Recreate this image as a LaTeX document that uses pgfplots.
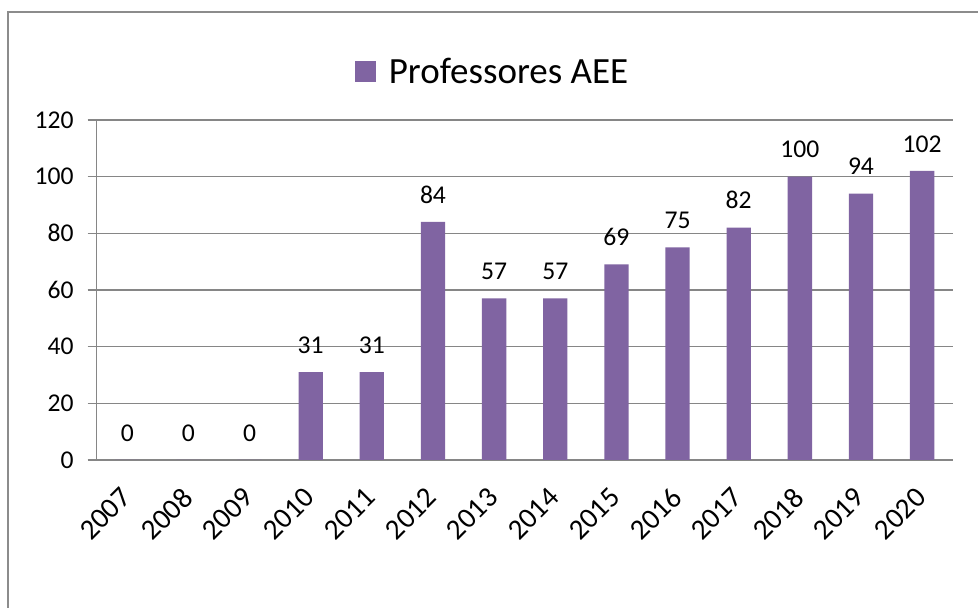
\documentclass[border=0pt]{standalone}
\usepackage{pgfplots}
\pgfplotsset{compat=1.18}
\usepackage{fontspec}
\setmainfont{Carlito}
\definecolor{barc}{HTML}{8064A2}
\definecolor{gridc}{HTML}{868686}
\definecolor{borderc}{HTML}{8C8C8C}
\begin{document}
\begin{tikzpicture}
\useasboundingbox (0,0) rectangle (978bp,608bp);
\fill[white] (0,0) rectangle (978bp,608bp);
\draw[borderc, line width=1.3bp] (8bp,0) -- (8bp,596bp) -- (978bp,596bp);
\begin{axis}[
  at={(96.7bp,148bp)}, anchor=south west,
  scale only axis, width=856bp, height=340bp,
  xmin=-0.5, xmax=13.5, ymin=0, ymax=120,
  axis x line=bottom, axis y line=left,
  axis line style={gridc, line width=1.3bp, -},
  every axis plot/.append style={draw=none},
  ytick={0,20,...,120},
  xtick={0,...,13},
  xticklabels={2007,2008,2009,2010,2011,2012,2013,2014,2015,2016,2017,2018,2019,2020},
  minor xtick={-0.5,0.5,...,13.5},
  xtick style={draw=none},
  minor tick style={gridc, line width=1.3bp},
  ytick style={gridc, line width=1.3bp},
  major tick length=9bp, minor tick length=10bp,
  tick align=outside,
  ymajorgrids=true,
  major grid style={gridc, line width=1.3bp},
  /pgf/number format/assume math mode=true,
  tick label style={font=\fontsize{25.6bp}{30bp}\selectfont, text=black},
  yticklabel style={inner sep=0pt, xshift=-14bp},
  xticklabel style={font=\fontsize{29bp}{32bp}\selectfont, xshift=-8bp, yshift=-17bp, rotate=45, anchor=north east, inner sep=0pt},
  nodes near coords,
  nodes near coords style={font=\fontsize{25.6bp}{30bp}\selectfont, text=black, anchor=south, inner sep=0pt, yshift=18.5bp},
  legend style={at={(0.4624,1.1426)}, anchor=center, draw=none, fill=none, inner sep=0pt,
    font=\fontsize{37bp}{40bp}\selectfont,
    /tikz/every odd column/.append style={column sep=11bp}},
  legend image code/.code={\fill[barc] (0bp,-10.5bp) rectangle (21bp,10.5bp);},
  clip=false,
]
\addplot[ybar, bar width=24.3bp, fill=barc, draw=none] coordinates {
(0,0) (1,0) (2,0) (3,31) (4,31) (5,84) (6,57) (7,57) (8,69) (9,75) (10,82) (11,100) (12,94) (13,102)};
\addlegendentry{Professores AEE}
\end{axis}
\end{tikzpicture}
\end{document}
